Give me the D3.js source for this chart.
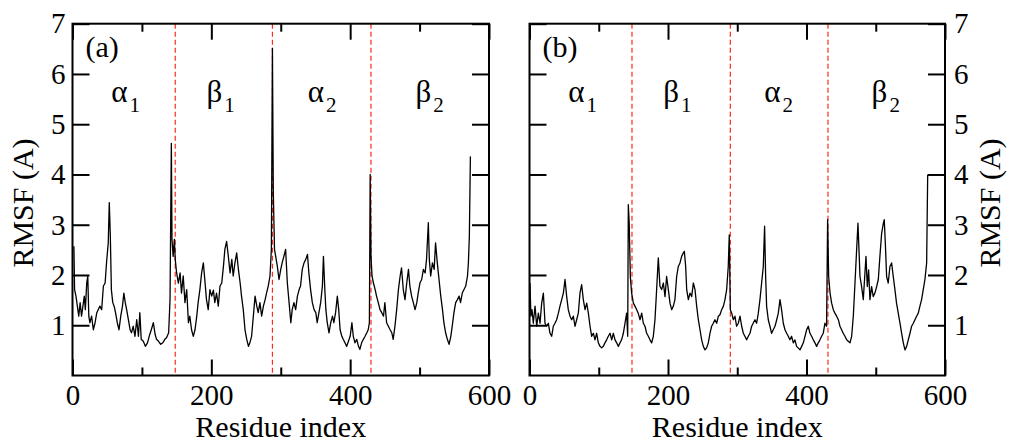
<!DOCTYPE html>
<html>
<head>
<meta charset="utf-8">
<script src="https://cdn.jsdelivr.net/npm/d3@7"></script>
<style>
  body { margin: 0; background: #fff; }
  svg text { font-family: "Liberation Serif", "Times New Roman", serif; fill: #000; }
</style>
</head>
<body>
<svg id="chart" width="1009" height="443"></svg>
<script>
/* RMSF per residue, two panels */

// panel (a) : residue index / RMSF
var residA = [
  2,3,5,7,9,11,13,15,17,18.5,
  20.5,22,23.5,25,27.5,30,32.5,35,37,39.5,
  42,44.5,47,49,51.5,53,54.5,56,58,60,
  62,64.5,67,69.5,72,74,76,78,80.5,83,
  85,87.5,90,92.5,95,97,99,102,105,108,
  110.5,113.5,116.5,119,121,124,127,130,133,135.5,
  138.5,140.5,142.4,143.3,145,146.7,148,150,152.5,155,
  157,159.5,162,164.5,167,169,171.5,174,176.5,179,
  181,183.5,186,188.5,191,193,195.5,198,200.5,203,
  205,207.5,210,212.5,215,217.5,219.5,222,224.5,227,
  229.5,231.5,234,236.5,239,241.5,243.5,246,248.5,251,
  253.5,255.5,258,260.5,263,265.5,267.5,270,272.5,275,
  277.5,279.5,282,284.5,286.5,288,289.3,291,292.7,295,
  297.5,300,302,304.5,307,309.5,312,314.5,316.5,319,
  321.5,324,326.5,328.5,331,333.5,336,338.5,340.5,343,
  345.5,348,350.5,352.5,355,357.5,360,361.5,363.5,365,
  367,369.5,372,374.5,376.5,379,381.5,383.5,385.5,388,
  390,392.5,395,397.5,400,402.5,404.5,407,409.5,412,
  414,416.5,419,421.5,424,426,427.7,428.8,430,431.5,
  433.5,436,438,440.5,443,445.5,448,450,452.5,455,
  457.5,460,462,464.5,467,469.5,472,474,476.5,479,
  481.5,484,486,488.5,491,493.5,496,498,500.5,503,
  505.5,508,510,512.6,514,516,518.5,521,523,525.5,
  528,530.5,533,535,537.5,540,542.5,545,547,549.5,
  552,554.5,557,559,561.5,564,566.5,569,570.3,571.7,
  573.2
];
var rmsfA = [
  2.57,1.71,1.58,1.38,1.18,1.45,1.18,1.38,1.58,1.31,
  1.84,1.98,1.18,1.05,1.18,0.91,1.05,1.25,1.31,1.38,
  1.31,1.78,1.84,2.24,2.64,3.44,2.77,1.71,1.45,1.38,
  1.25,1.05,0.91,1.18,1.38,1.64,1.45,1.31,1.11,0.91,
  0.85,0.98,0.78,1.11,0.78,1.25,0.72,0.68,0.58,0.65,
  0.78,0.91,1.05,0.82,0.72,0.68,0.62,0.65,0.72,0.75,
  0.85,1.51,4.62,2.71,2.37,2.71,2.31,2.04,1.84,2.04,
  1.64,1.98,1.45,1.71,1.05,1.18,0.91,0.78,0.91,1.18,
  1.45,1.71,2.04,2.24,1.84,1.51,1.31,1.71,1.58,1.70,
  1.45,1.64,1.38,1.78,1.84,2.18,2.51,2.67,2.37,2.04,
  2.31,1.98,2.24,2.44,2.11,1.84,1.58,1.31,0.91,0.72,
  0.58,0.65,0.78,1.18,1.58,1.38,1.25,1.45,1.18,1.38,
  1.51,1.64,1.78,1.98,2.51,6.51,3.63,2.51,2.37,2.18,
  1.91,2.11,2.24,2.37,2.51,1.84,1.45,1.05,1.31,1.45,
  1.31,1.58,1.71,1.78,2.11,2.24,2.31,2.41,2.04,1.71,
  1.45,1.31,1.25,1.05,1.25,1.45,1.78,2.37,1.71,1.31,
  1.05,0.85,1.05,1.18,1.05,1.25,1.58,1.31,0.91,0.78,
  0.72,0.65,0.58,0.68,0.78,1.05,0.78,0.65,0.72,0.58,
  0.52,0.65,0.72,0.78,0.85,0.91,1.05,4.00,2.37,1.98,
  1.84,1.71,1.58,1.45,1.31,1.25,1.18,1.45,1.05,0.98,
  0.91,0.85,0.72,0.98,1.31,1.71,1.98,2.14,1.71,1.51,
  1.84,2.11,1.78,1.58,1.45,1.31,1.45,1.64,1.84,1.91,
  2.11,2.04,2.31,3.04,2.31,1.98,2.24,2.11,2.64,2.24,
  1.91,1.58,1.31,1.05,0.85,0.72,0.62,0.78,0.98,1.25,
  1.45,1.51,1.58,1.45,1.64,1.71,1.78,1.98,2.24,2.77,
  4.36
];

// panel (b)
var residB = [
  0.7,2,3.6,5.5,8,10.4,12.8,15.2,17.6,20,
  22.4,24.8,27.2,29.6,32,34.4,36.8,39.2,41.7,44,
  46.5,48.9,51.3,53.7,56,58.5,60.9,63.3,65.7,68.1,
  70.5,72.9,75.3,77.7,80.2,82.6,85,87.4,89.8,92.2,
  94.6,97,99.4,101.8,104.2,106.6,109,111.4,113.8,116.3,
  118.7,121,123.5,125.9,128.3,130.7,133,135.5,137.9,140.3,
  141.8,142.7,144,145.6,147.5,150,152.3,154.8,157,159.6,
  162,164.4,166.8,169.2,171.6,174,176.4,178.8,181.2,183.6,
  186,188.4,190.8,193.3,195.7,198,200.5,202.9,205.3,207.7,
  210,212.5,214.9,217.3,219.7,222.1,223.6,225.5,227,229.4,
  231.8,234.2,236.6,239,241.4,243.8,246.2,248.6,251,253.4,
  255.8,258.2,260.6,263,265.4,267.8,270.3,272.7,275,277.5,
  280,282.3,284.7,287,288.5,290,292,294.3,296.7,299,
  301.5,304,306.4,308.8,311,313.6,316,318.4,320.8,323,
  325.6,328,330.4,332.8,335.2,337.6,339.5,341,342.4,344.8,
  347.2,349.6,352,354.5,357,359.3,361.7,364,366.5,368.9,
  371.3,373.7,376,378.5,381,383.3,385.7,388,390.6,393,
  395.4,397.8,400.2,402.6,405,407.4,409.8,412.2,414.6,417,
  419.4,421.8,424.2,426.6,429,430.5,432,434,436.3,438.7,
  441,443.5,446,448.3,450.7,453,455.5,458,460.3,462.8,
  465.2,467.6,470,472.4,474.3,475.8,477.2,479.6,482,484.4,
  485.9,487.8,489.7,491.6,494,496.4,498.8,501.3,503.7,506,
  508.5,511,512.3,513.8,515.7,518,520.5,522.9,525.3,527.7,
  530,532.5,535,537.4,539.8,542.2,544.6,547,549.4,551.8,
  554.2,556.6,559,561.4,563.8,566.2,568.6,571,573.5,575
];
var rmsfB = [
  1.84,1.18,1.31,1.04,1.38,0.98,1.24,1.04,1.44,1.64,
  1.04,0.98,1.04,0.84,0.78,0.98,1.04,1.11,1.24,1.38,
  1.51,1.64,1.91,1.57,1.31,1.18,1.11,1.18,0.98,1.11,
  1.24,1.64,1.81,1.51,1.31,1.44,1.24,0.98,0.78,0.84,
  0.71,0.84,0.65,0.58,0.55,0.58,0.65,0.71,0.78,0.84,
  0.71,0.84,0.71,0.65,0.58,0.65,0.71,0.84,1.04,1.24,
  0.78,3.40,3.03,1.97,1.64,1.44,1.38,1.31,1.24,1.11,
  1.24,1.04,0.98,0.84,0.78,0.71,0.65,0.78,1.11,1.71,
  2.34,1.77,1.71,1.84,1.57,1.97,1.71,1.44,1.31,1.38,
  1.51,1.97,2.17,2.24,2.37,2.44,2.47,2.17,1.71,1.51,
  1.64,1.57,1.84,1.71,1.38,1.11,0.91,0.71,0.58,0.51,
  0.55,0.65,0.84,0.98,1.04,1.11,1.04,1.18,1.21,1.31,
  1.38,1.51,1.71,2.17,2.80,1.31,1.24,1.11,1.18,0.98,
  1.04,1.18,0.98,0.84,0.78,0.71,0.78,0.84,0.98,1.04,
  1.11,1.04,1.24,1.51,1.84,2.17,2.97,1.97,1.38,1.11,
  0.98,0.84,0.91,0.98,1.11,1.24,1.51,1.31,1.04,0.91,
  0.84,0.78,0.71,0.78,0.65,0.71,0.58,0.55,0.51,0.58,
  0.65,0.78,0.91,0.98,0.84,0.78,0.71,0.65,0.58,0.65,
  0.71,0.78,0.84,1.04,0.98,3.10,1.97,1.64,1.44,1.31,
  1.24,1.18,1.11,0.98,0.91,0.84,0.78,0.71,0.68,0.65,
  0.78,1.18,1.84,2.50,3.03,2.50,1.97,1.77,1.51,2.04,
  2.37,1.77,2.10,1.51,1.77,1.57,1.64,1.77,1.91,2.37,
  2.83,3.03,3.10,2.64,1.97,1.84,2.17,2.24,1.97,1.71,
  1.44,1.24,1.04,0.84,0.65,0.51,0.58,0.71,0.84,0.98,
  1.04,1.11,1.18,1.24,1.38,1.51,1.71,1.91,2.24,4.00
];

// domain boundaries (red dashed) and domain names
var boundariesA = [148, 288, 430];
var boundariesB = [148, 290, 431];
var domainNames = ["α", "β", "α", "β"];
var domainSubs = ["1", "1", "2", "2"];
var domainStart = [56, 193, 339, 494];

var xMajor = [0, 200, 400, 600];
var xMinor = [100, 300, 500];
var yTicks = [1, 2, 3, 4, 5, 6, 7];

var svg = d3.select("#chart");

var y = d3.scaleLinear().domain([0, 7]).range([375.5, 23.7]);

var panels = [
  { id: "a", x0: 72.5, x1: 489, resid: residA, rmsf: rmsfA, bounds: boundariesA, labelSide: "left", title: "(a)" },
  { id: "b", x0: 529.5, x1: 945, resid: residB, rmsf: rmsfB, bounds: boundariesB, labelSide: "right", title: "(b)" }
];

var fmt = d3.format("d");

panels.forEach(function(p) {
  var x = d3.scaleLinear().domain([0, 600]).range([p.x0, p.x1]);
  var g = svg.append("g").attr("class", "panel-" + p.id);

  // dashed domain boundaries
  g.selectAll("line.bound")
    .data(p.bounds)
    .enter().append("line")
    .attr("class", "bound")
    .attr("x1", function(d) { return x(d); })
    .attr("x2", function(d) { return x(d); })
    .attr("y1", y(7))
    .attr("y2", y(0))
    .attr("stroke", "#ff2a1a")
    .attr("stroke-width", 1.2)
    .attr("stroke-dasharray", "5,3");

  // the RMSF curve
  var pts = p.resid.map(function(r, i) { return { r: r, v: p.rmsf[i] }; });
  var line = d3.line()
    .x(function(d) { return x(d.r); })
    .y(function(d) { return y(d.v); });
  g.append("path")
    .datum(pts)
    .attr("d", line)
    .attr("fill", "none")
    .attr("stroke", "#000")
    .attr("stroke-width", 1.3)
    .attr("stroke-linejoin", "round");

  // axes, ticks pointing inward on all four sides
  function styleAxis(sel) {
    sel.select(".domain").remove();
    sel.selectAll(".tick line").attr("stroke", "#000").attr("stroke-width", 2);
    sel.selectAll(".tick text").attr("font-size", "29px");
  }

  g.append("g").attr("transform", "translate(0," + y(0) + ")")
    .call(d3.axisBottom(x).tickValues(xMajor).tickSize(-16).tickPadding(9).tickFormat(fmt))
    .call(styleAxis);
  g.append("g").attr("transform", "translate(0," + y(0) + ")")
    .call(d3.axisBottom(x).tickValues(xMinor).tickSize(-8).tickFormat(""))
    .call(styleAxis);
  g.append("g").attr("transform", "translate(0," + y(7) + ")")
    .call(d3.axisTop(x).tickValues(xMajor).tickSize(-16).tickFormat(""))
    .call(styleAxis);
  g.append("g").attr("transform", "translate(0," + y(7) + ")")
    .call(d3.axisTop(x).tickValues(xMinor).tickSize(-8).tickFormat(""))
    .call(styleAxis);

  var leftAx = d3.axisLeft(y).tickValues(yTicks).tickSize(-17).tickPadding(7).tickFormat(fmt);
  var rightAx = d3.axisRight(y).tickValues(yTicks).tickSize(-17).tickPadding(9).tickFormat(fmt);
  if (p.labelSide == "left") rightAx.tickFormat(""); else leftAx.tickFormat("");
  g.append("g").attr("transform", "translate(" + p.x0 + ",0)").call(leftAx).call(styleAxis);
  g.append("g").attr("transform", "translate(" + p.x1 + ",0)").call(rightAx).call(styleAxis);

  // frame
  g.append("rect")
    .attr("x", p.x0).attr("y", y(7))
    .attr("width", p.x1 - p.x0).attr("height", y(0) - y(7))
    .attr("fill", "none").attr("stroke", "#000").attr("stroke-width", 2);

  // panel tag
  g.append("text")
    .attr("x", p.x0 + 13)
    .attr("y", y(6.33))
    .attr("font-size", "30px")
    .text(p.title);

  // domain labels with subscripts
  domainNames.forEach(function(n, i) {
    var t = g.append("text")
      .attr("x", x(domainStart[i]))
      .attr("y", y(5.44))
      .attr("font-size", "31px");
    t.append("tspan").text(n);
    t.append("tspan").attr("dx", 2).attr("dy", 10).attr("font-size", "21px").text(domainSubs[i]);
  });

  // axis titles
  svg.append("text")
    .attr("x", (p.x0 + p.x1) / 2)
    .attr("y", 436.5)
    .attr("text-anchor", "middle")
    .attr("font-size", "30px")
    .text("Residue index");

  var yx = p.labelSide == "left" ? 33 : 1000;
  svg.append("text")
    .attr("transform", "translate(" + yx + ",203) rotate(-90)")
    .attr("text-anchor", "middle")
    .attr("font-size", "30px")
    .text("RMSF (A)");
});
</script>
</body>
</html>
